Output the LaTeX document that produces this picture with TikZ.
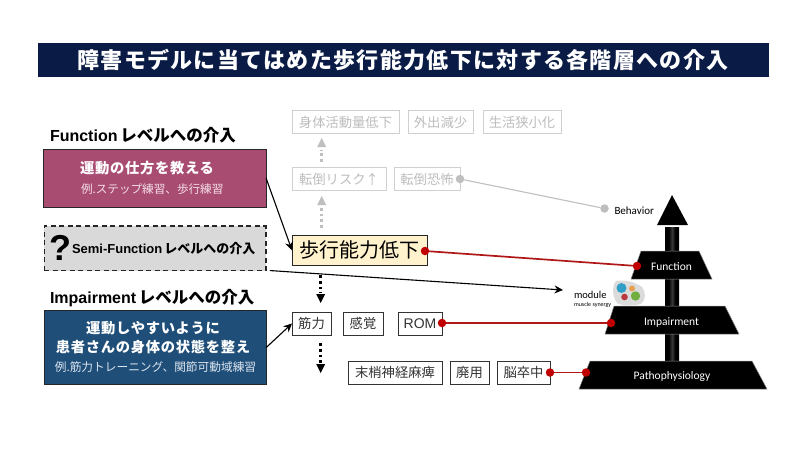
\documentclass[tikz,border=0pt]{standalone}
\usepackage{fontspec}
\setmainfont{Noto Sans CJK JP}
\newfontfamily\jpwide[LetterSpace=6]{Noto Sans CJK JP}
\newfontfamily\jpbox[LetterSpace=5]{Noto Sans CJK JP}
\newfontfamily\latfont{Liberation Sans}
\newfontfamily\calfont{Carlito}
\usetikzlibrary{arrows.meta,shadings}
\definecolor{titlenavy}{HTML}{0A1C45}
\definecolor{rose}{HTML}{A94C72}
\definecolor{rosetext}{HTML}{F3DFE8}
\definecolor{deepblue}{HTML}{1F4E79}
\definecolor{bluetext}{HTML}{DCE6F0}
\definecolor{cream}{HTML}{FFF2CC}
\definecolor{fade}{HTML}{D0D0D0}
\definecolor{fadetext}{HTML}{BDBDBD}
\definecolor{fadedot}{HTML}{BFBFBF}
\definecolor{linkred}{HTML}{B01818}
\definecolor{dotred}{HTML}{C00000}
\definecolor{semi}{HTML}{D9D9D9}
\definecolor{synblue}{HTML}{2F9FC8}
\definecolor{synorange}{HTML}{E8A050}
\definecolor{synred}{HTML}{B8393F}
\definecolor{syngreen}{HTML}{6FAE3F}
\pgfdeclarehorizontalshading{shaftshade}{100bp}{color(0bp)=(black);color(38bp)=(black);color(50bp)=(black!78);color(62bp)=(black);color(100bp)=(black)}
\tikzset{
  x=1pt,y=-1pt,
  every node/.style={inner sep=0pt,outer sep=0pt,align=center},
  plainbox/.style={draw=black!80,line width=1pt,fill=white,font=\fontsize{13.3}{15}\selectfont,text=black!80},
  ghostbox/.style={draw=fade,line width=1pt,fill=white,font=\fontsize{13.3}{15}\selectfont,text=fadetext},
  heading/.style={anchor=west,font=\bfseries\fontsize{16.5}{18}\selectfont,text=black},
  reddot/.style={circle,fill=dotred,minimum size=8.5pt},
  greydot/.style={circle,fill=fadedot,minimum size=8.5pt},
  redlink/.style={draw=linkred,line width=1.7pt},
  arrowline/.style={draw=black,line width=1.1pt,-{Stealth[length=8.5pt,width=8pt]}},
  dotsdown/.style={draw=black,line width=3pt,dash pattern=on 2.8pt off 3pt},
  dotsghost/.style={draw=fadedot,line width=3pt,dash pattern=on 2.8pt off 3pt},
  tierlabel/.style={font=\calfont\fontsize{11.5}{13}\selectfont,text=white},
}
\begin{document}
\begin{tikzpicture}
\useasboundingbox (0,0) rectangle (800,450);
\fill[white] (0,0) rectangle (800,450);

% Title band
\node[fill=titlenavy,minimum width=731pt,minimum height=34pt,text=white,font=\jpwide\bfseries\fontsize{22}{24}\selectfont] (title) at (403,60) {障害モデルに当てはめた歩行能力低下に対する各階層への介入};

% Left column: intervention levels
\node[heading] (fnhead) at (50,135) {{\latfont\fontsize{16}{18}\selectfont Function}\,レベルへの介入};
\node[draw=black!85,line width=1pt,fill=rose,minimum width=222.5pt,minimum height=58pt] (fnbox) at (154.8,178) {};
\node[anchor=west,text=white,font=\jpbox\bfseries\fontsize{14.3}{16}\selectfont] (fnmain) at (80,168) {運動の仕方を教える};
\node[anchor=west,text=rosetext,font=\fontsize{11.6}{13}\selectfont] (fnsub) at (81,189) {例.ステップ練習、歩行練習};

\node[draw=black!85,line width=1.2pt,dash pattern=on 5pt off 3.5pt,fill=semi,minimum width=221.5pt,minimum height=44.5pt] (semibox) at (155.2,248.3) {};
\node[font=\latfont\bfseries\fontsize{36}{38}\selectfont] (qmark) at (60,248) {?};
\node[anchor=west,font=\bfseries\fontsize{13}{15}\selectfont] (semitext) at (72,249) {{\latfont Semi-Function}\,レベルへの介入};

\node[heading] (imphead) at (50,298) {{\latfont\fontsize{16}{18}\selectfont Impairment}\,レベルへの介入};
\node[draw=black!85,line width=1pt,fill=deepblue,minimum width=222pt,minimum height=74pt] (impbox) at (155,347.7) {};
\node[text=white,font=\jpbox\bfseries\fontsize{14.3}{19}\selectfont] (impmain) at (153,338) {運動しやすいように\\患者さんの身体の状態を整え};
\node[text=bluetext,font=\fontsize{11.7}{13}\selectfont] (impsub) at (155.5,367) {例.筋力トレーニング、関節可動域練習};

% Centre column: faded upper tiers
\node[ghostbox,minimum width=107pt,minimum height=22.5pt] (activity) at (345.5,122) {身体活動量低下};
\node[ghostbox,minimum width=65pt,minimum height=22.5pt] (outing) at (440.5,122) {外出減少};
\node[ghostbox,minimum width=78pt,minimum height=22.5pt] (lifespace) at (522,122) {生活狭小化};
\node[ghostbox,minimum width=94pt,minimum height=22.5pt] (fallrisk) at (339,179) {転倒リスク↑};
\node[ghostbox,minimum width=66pt,minimum height=22.5pt] (fallfear) at (427,179) {転倒恐怖};

% Centre column: walking ability and its causes
\node[draw=black!85,line width=1pt,fill=cream,minimum width=135pt,minimum height=30.5pt,font=\fontsize{20}{22}\selectfont] (walking) at (359.5,250.3) {歩行能力低下};
\node[plainbox,minimum width=39pt,minimum height=23pt] (muscle) at (311.5,323.5) {筋力};
\node[plainbox,minimum width=40pt,minimum height=23pt] (sense) at (363,323.5) {感覚};
\node[plainbox,minimum width=44pt,minimum height=23pt,font=\latfont\fontsize{14}{16}\selectfont] (rom) at (420,323.5) {ROM};
\node[plainbox,minimum width=94pt,minimum height=23pt] (nerve) at (395,372.5) {末梢神経麻痺};
\node[plainbox,minimum width=39pt,minimum height=23pt] (disuse) at (469.5,372.5) {廃用};
\node[plainbox,minimum width=53pt,minimum height=23pt] (stroke) at (523.5,372.5) {脳卒中};

% Dotted progression arrows
\coordinate (ga1) at (321.7,162);
\coordinate (ga1t) at (321.7,138);
\coordinate (ga2) at (321.7,228);
\coordinate (ga2t) at (321.7,196);
\draw[dotsghost] (ga1) -- ++(0,-12);
\fill[fadedot] (ga1t) -- ++(4.5,9) -- ++(-9,0) -- cycle;
\draw[dotsghost] (ga2) -- ++(0,-21);
\fill[fadedot] (ga2t) -- ++(4.5,9) -- ++(-9,0) -- cycle;
\coordinate (ba1) at (320.7,275);
\coordinate (ba1t) at (320.7,303);
\coordinate (ba2) at (320.7,343);
\coordinate (ba2t) at (320.7,373);
\draw[dotsdown] (ba1) -- ++(0,18);
\fill[black] (ba1t) -- ++(4.5,-9) -- ++(-9,0) -- cycle;
\draw[dotsdown] (ba2) -- ++(0,20);
\fill[black] (ba2t) -- ++(4.5,-9) -- ++(-9,0) -- cycle;

% Arrows from the intervention boxes
\coordinate (semiend) at (563,290);
\draw[arrowline] (fnbox.east) -- (walking.west);
\draw[arrowline] (impbox.east) -- (muscle.west);
\draw[arrowline] ([xshift=4pt]semibox.south east) -- (semiend);

% Pyramid
\shade[shading=shaftshade] (665,227) rectangle (679,361);
\fill[black] (672,195) -- (688,225) -- (657,225) -- cycle;
\fill[black,draw=black!45,line width=.5pt] (641,251) -- (699,251) -- (712,279) -- (631,279) -- cycle;
\fill[black,draw=black!45,line width=.5pt] (614,306) -- (725,306) -- (739,334) -- (605,334) -- cycle;
\fill[black,draw=black!45,line width=.5pt] (590,361) -- (752,361) -- (767,389) -- (579,389) -- cycle;
\node[tierlabel] (tfn) at (671.5,267) {Function};
\node[tierlabel] (timp) at (671.5,322) {Impairment};
\node[tierlabel] (tpath) at (672,376) {Pathophysiology};
\node[anchor=west,font=\calfont\fontsize{11}{12}\selectfont] (tbeh) at (614.5,210.5) {Behavior};

% Module inset
\node[anchor=west,font=\calfont\fontsize{10.5}{12}\selectfont] (modlabel) at (574,295) {module};
\node[anchor=west,font=\calfont\fontsize{6}{7}\selectfont] (modsub) at (574,305) {muscle synergy};
\fill[black!14] (616,281) .. controls (626,279) and (636,283) .. (642,287) .. controls (646,292) and (646,300) .. (641,304) .. controls (632,306) and (622,306) .. (617,303) .. controls (612,296) and (612,286) .. (616,281);
\fill[synblue] (621.5,288) circle (5pt);
\fill[synorange] (632,288.5) circle (3pt);
\fill[synred] (624.5,297) circle (3.3pt);
\fill[syngreen] (635.5,296) circle (4.7pt);

% Links from the centre column to the pyramid tiers
\node[greydot] (dfear) at (460,179) {};
\node[greydot] (dbeh) at (604.5,208.5) {};
\node[reddot] (dwalk) at (425,251) {};
\node[reddot] (dfn) at (637,266) {};
\node[reddot] (drom) at (442,323) {};
\node[reddot] (dimp) at (611,323) {};
\node[reddot] (dstroke) at (550,372.5) {};
\node[reddot] (dpath) at (586,372.5) {};
\draw[draw=fadedot,line width=1.1pt] (dfear) -- (dbeh);
\draw[redlink] (dwalk) -- (dfn);
\draw[redlink,line width=2pt] (drom) -- (dimp);
\draw[redlink] (dstroke) -- (dpath);
\end{tikzpicture}
\end{document}
